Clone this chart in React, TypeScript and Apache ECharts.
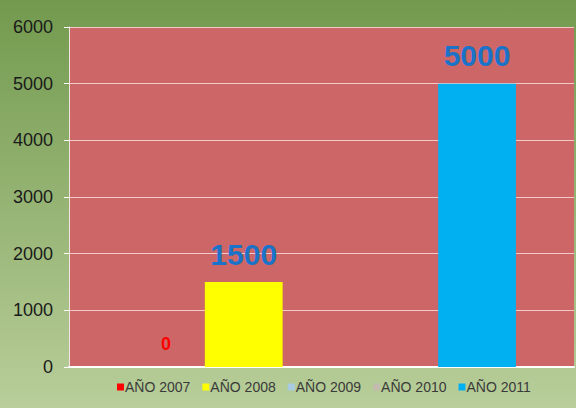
import React, { useEffect, useRef } from "react";
import * as echarts from "echarts";

const categories = [""];
const seriesNames = ["AÑO 2007", "AÑO 2008", "AÑO 2009", "AÑO 2010", "AÑO 2011"];
const seriesValues: (number | null)[] = [0, 1500, null, null, 5000];
const yTicks = { min: 0, max: 6000, interval: 1000 };

const seriesColors = ["#FF0000", "#FFFF00", "#A9CBE2", "#C2BBAE", "#00B0F0"];
const labelStyles = [
  { color: "#FF0000", fontSize: 18, fontWeight: "bold", distance: 14 },
  { color: "#1A73C8", fontSize: 30, fontWeight: "bold", distance: 13 },
  { color: "#1A73C8", fontSize: 30, fontWeight: "bold", distance: 13 },
  { color: "#1A73C8", fontSize: 30, fontWeight: "bold", distance: 13 },
  { color: "#1A73C8", fontSize: 30, fontWeight: "bold", distance: 13 },
];

const FONT = "'Liberation Sans', Arial, sans-serif";

export default function App() {
  const ref = useRef<HTMLDivElement>(null);
  useEffect(() => {
    document.body.style.margin = "0";
    const chart = echarts.init(ref.current!, null, { renderer: "svg" });
    chart.setOption({
      animation: false,
      backgroundColor: new echarts.graphic.LinearGradient(0, 0, 0, 1, [
        { offset: 0, color: "#729A4E" },
        { offset: 1, color: "#B9CE9A" },
      ]),
      textStyle: { fontFamily: FONT },
      grid: { left: 69, right: 2, top: 27, bottom: 41, show: true, backgroundColor: "#CD6767", borderWidth: 0 },
      legend: {
        bottom: 9,
        left: 112,
        itemWidth: 7,
        itemHeight: 7,
        itemGap: 12,
        icon: "rect",
        textStyle: { fontFamily: FONT, fontSize: 14, color: "#3A3A3A", padding: [0, 0, 0, -4] },
        data: seriesNames,
      },
      xAxis: {
        type: "category",
        data: categories,
        axisLine: { show: true, lineStyle: { color: "#FFFFFF", width: 2 } },
        axisTick: { show: false },
        axisLabel: { show: false },
      },
      yAxis: {
        type: "value",
        min: yTicks.min,
        max: yTicks.max,
        interval: yTicks.interval,
        axisLine: { show: true, lineStyle: { color: "#F3E3E3", width: 1 } },
        axisTick: { show: true, length: 5, lineStyle: { color: "#FFFFFF" } },
        axisLabel: {
          fontFamily: FONT,
          fontSize: 18,
          color: "#1A1A1A",
          margin: 16,
          formatter: (v: number) => String(v),
        },
        splitLine: { show: true, lineStyle: { color: "rgba(255,235,235,0.75)", width: 1 } },
      },
      series: seriesNames.map((name, i) => {
        const { distance, ...ls } = labelStyles[i];
        return {
          name,
          type: "bar",
          data: [seriesValues[i]],
          barGap: "0%",
          barCategoryGap: "23%",
          itemStyle: { color: seriesColors[i] },
          label: {
            show: seriesValues[i] !== null,
            position: "top",
            distance,
            fontFamily: FONT,
            ...ls,
          },
        };
      }),
    });
    return () => chart.dispose();
  }, []);
  return <div ref={ref} style={{ width: 576, height: 408 }} />;
}
